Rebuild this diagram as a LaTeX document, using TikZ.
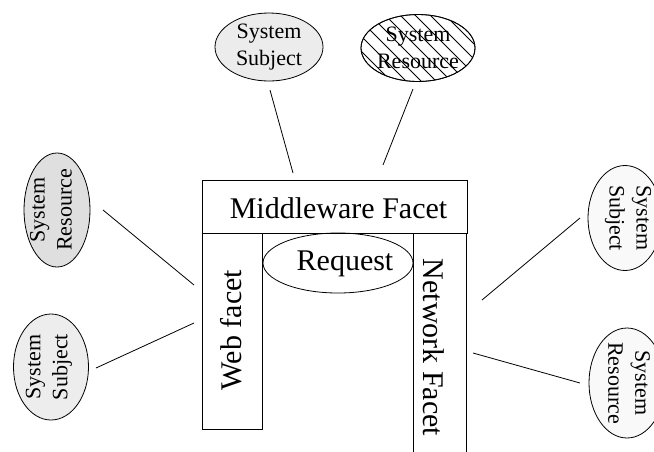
\documentclass[tikz,border=0pt]{standalone}
\usepackage{fontspec}
\setmainfont{Liberation Serif}
\usetikzlibrary{shapes.geometric}
\begin{document}
\begin{tikzpicture}[x=1pt,y=-1pt,
  big/.style={font=\fontsize{30}{36}\selectfont, inner sep=0pt},
  small/.style={font=\fontsize{22}{27}\selectfont, align=center, inner sep=0pt},
  ell/.style={ellipse, draw, line width=0.8pt, inner sep=0pt},
  box/.style={draw, line width=0.8pt, rectangle, inner sep=0pt},
  conn/.style={line width=0.8pt}]
\useasboundingbox (0,0) rectangle (654,451);

% boxes
\node[box, minimum width=265pt, minimum height=53pt] (mw) at (334.5,206.5) {};
\node[box, minimum width=60pt, minimum height=196pt] (web) at (232,331) {};
\node[box, minimum width=53pt, minimum height=240pt] (net) at (439.5,353) {};
\node[big] (mwt) at (338.5,208) {Middleware Facet};
\node[big, rotate=90] (webt) at (231,330) {Web facet};
\node[big, rotate=-90] (nett) at (434,347.5) {Network Facet};
\node[ell, minimum width=150pt, minimum height=60pt] (req) at (338,263) {};
\node[big] (reqt) at (345,264) {Request};

% top ellipses
\node[ell, fill=gray!15, minimum width=108pt, minimum height=68pt] (tss) at (269,47) {};
\node[small] (tsst) at (269,47) {System\\Subject};
\node[ell, minimum width=114pt, minimum height=67pt] (tsr) at (418,48) {};
\begin{scope}
  \clip (418,48) ellipse [x radius=57pt, y radius=33.5pt];
  \foreach \i in {-9,...,9}
    \draw[line width=0.9pt] (418+\i*15-50,48-50) -- ++(100,100);
\end{scope}
\node[ell, minimum width=114pt, minimum height=67pt] at (418,48) {};
\node[small] (tsrt) at (418,48) {System\\Resource};

% left ellipses
\node[ell, fill=gray!25, rotate=90, minimum width=114pt, minimum height=66pt] (lsr) at (57,210) {};
\node[small, rotate=90] (lsrt) at (51,210) {System\\Resource};
\node[ell, fill=gray!14, rotate=90, minimum width=106pt, minimum height=75pt] (lss) at (51,367) {};
\node[small, rotate=90] (lsst) at (49,367) {System\\Subject};

% right ellipses
\node[ell, fill=gray!5, rotate=-90, minimum width=105pt, minimum height=74pt] (rss) at (625,218) {};
\node[small, rotate=-90] (rsst) at (628,218) {System\\Subject};
\node[ell, fill=gray!5, rotate=-90, minimum width=110pt, minimum height=76pt] (rsr) at (627,383) {};
\node[small, rotate=-90] (rsrt) at (629,383) {System\\Resource};

% connector ends
\coordinate (a1) at (270,90);  \coordinate (a2) at (293,173);
\coordinate (b1) at (413,89);  \coordinate (b2) at (383,165);
\coordinate (c1) at (103,210); \coordinate (c2) at (194,285);
\coordinate (d1) at (96,368);  \coordinate (d2) at (194,323);
\coordinate (e1) at (580,218); \coordinate (e2) at (482,300);
\coordinate (f1) at (580,383); \coordinate (f2) at (473,353);

\draw[conn] (a1) -- (a2);
\draw[conn] (b1) -- (b2);
\draw[conn] (c1) -- (c2);
\draw[conn] (d1) -- (d2);
\draw[conn] (e1) -- (e2);
\draw[conn] (f1) -- (f2);
\end{tikzpicture}
\end{document}
